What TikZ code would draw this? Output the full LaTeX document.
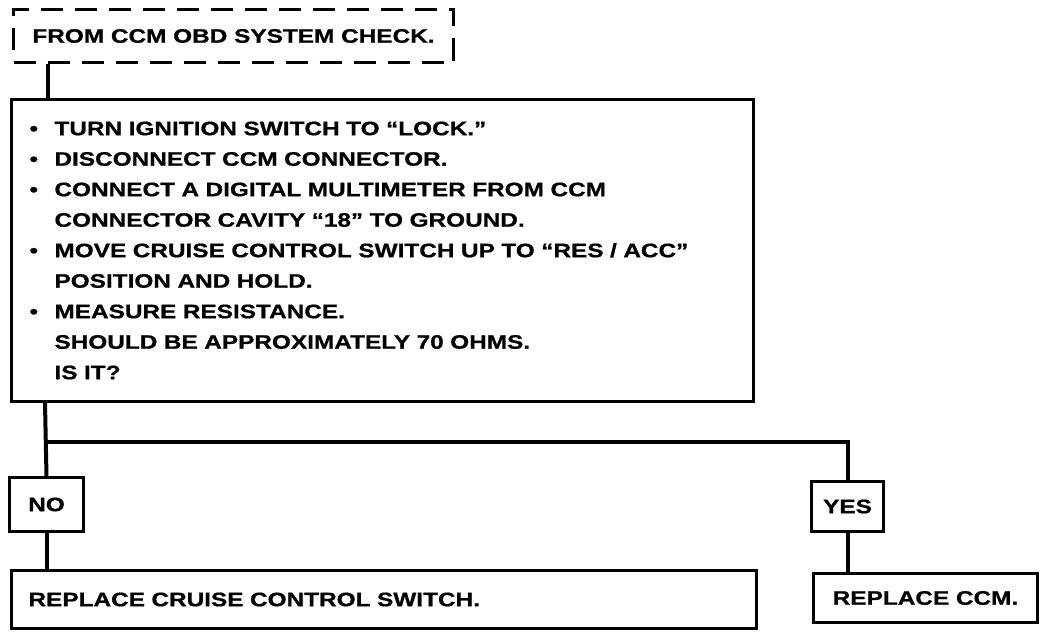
\documentclass[tikz,border=0pt]{standalone}
\usepackage{fontspec}
\setmainfont{Liberation Sans}[FakeStretch=1.25,BoldFeatures={FakeBold=0.8}]
\usetikzlibrary{positioning}

\newcommand{\bul}{\makebox[25pt][l]{\textbullet}}
\newcommand{\ind}{\hspace*{25pt}}

\begin{document}
\begin{tikzpicture}[x=1pt,y=-1pt,
  every node/.style={font=\fontsize{19.5}{30.5}\selectfont\bfseries, inner sep=0pt},
  box/.style={draw, line width=3pt, anchor=north west},
  startbox/.style={box, dash pattern=on 22pt off 12pt},
  link/.style={line width=4pt}]
  \useasboundingbox (0,0) rectangle (1056,634);

  \node[startbox, minimum width=440, minimum height=53] (start) at (12,8) {FROM CCM OBD SYSTEM CHECK.};
  \node[box, text width=706, inner xsep=18, minimum height=302, align=left] (check) at (10,98)
    {\bul TURN IGNITION SWITCH TO “LOCK.”\\
     \bul DISCONNECT CCM CONNECTOR.\\
     \bul CONNECT A DIGITAL MULTIMETER FROM CCM\\
     \ind CONNECTOR CAVITY “18” TO GROUND.\\
     \bul MOVE CRUISE CONTROL SWITCH UP TO “RES / ACC”\\
     \ind POSITION AND HOLD.\\
     \bul MEASURE RESISTANCE.\\
     \ind SHOULD BE APPROXIMATELY 70 OHMS.\\
     \ind IS IT?};
  \node[box, minimum width=74, minimum height=54] (no) at (8,476) {NO};
  \node[box, minimum width=72, minimum height=50] (yes) at (810,480) {YES};
  \node[box, text width=711, inner xsep=17, minimum height=58, align=left] (swap) at (10,569) {REPLACE CRUISE CONTROL SWITCH.};
  \node[box, minimum width=224, minimum height=49] (ccm) at (812,572) {REPLACE CCM.};

  % connectors
  \coordinate (drop) at ([xshift=36]start.south west);
  \coordinate (split) at (45,442);
  \draw[link] (drop) -- (drop |- check.north);
  \draw[link] (split |- check.south) -- (no.north);
  \draw[link] (split) -| (yes.north);
  \draw[link] (no.south) -- (swap.north -| no.south);
  \draw[link] (yes.south) -- (yes.south |- ccm.north);
\end{tikzpicture}
\end{document}
